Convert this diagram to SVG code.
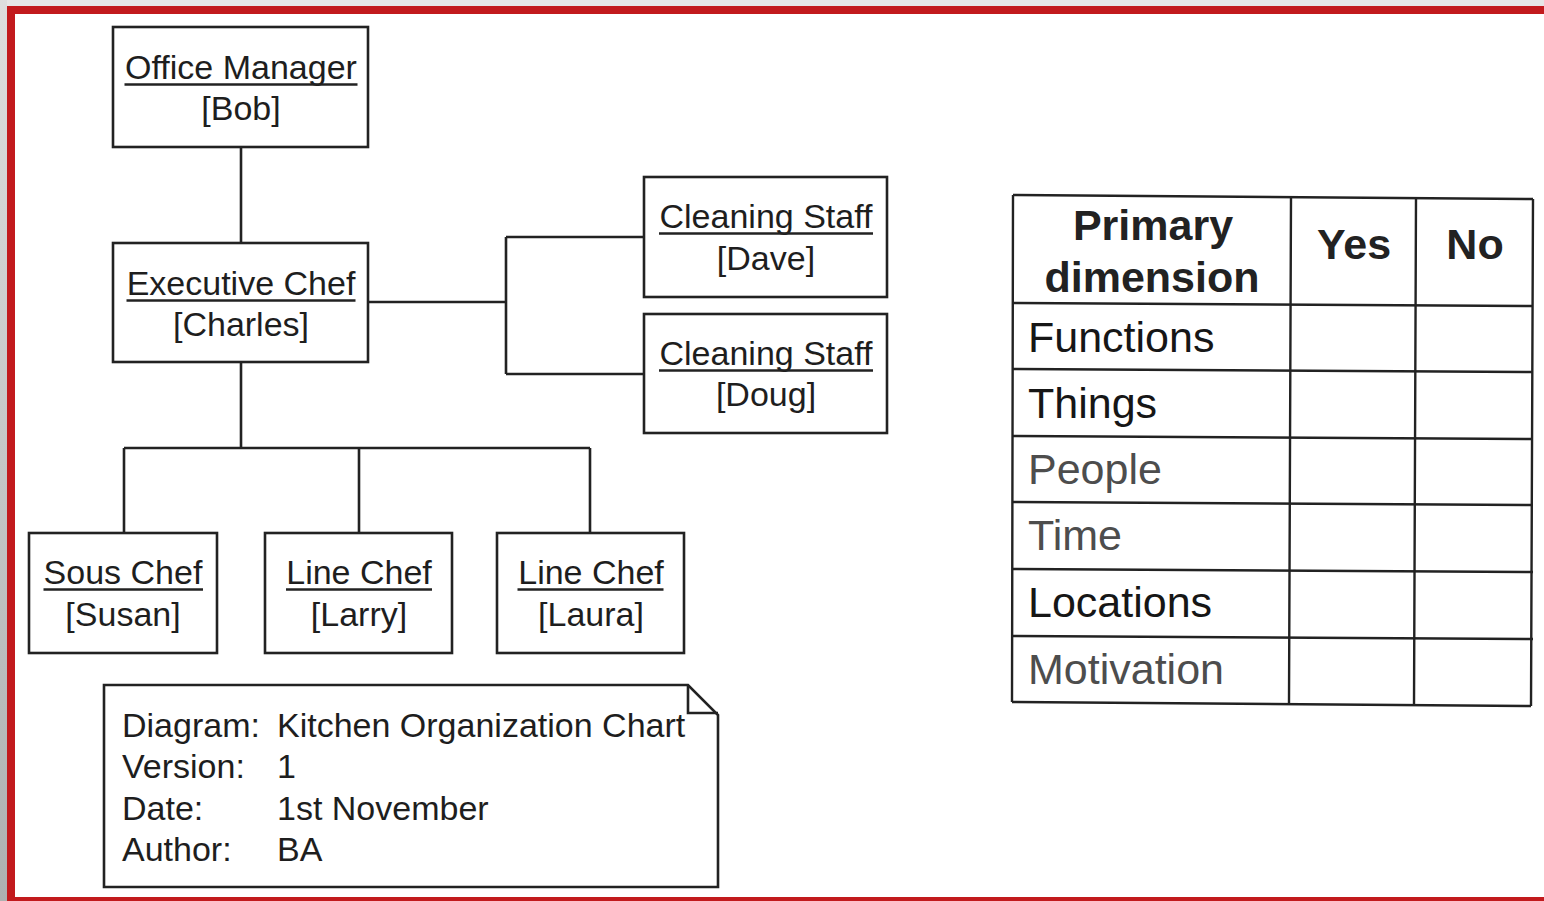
<svg xmlns="http://www.w3.org/2000/svg" width="1544" height="901" viewBox="0 0 1544 901">
  <defs>
    <linearGradient id="sideShade" x1="0" y1="0" x2="0" y2="1">
      <stop offset="0" stop-color="#dedede"/>
      <stop offset="1" stop-color="#adb1b1"/>
    </linearGradient>
    <style>
      .box { fill: #ffffff; stroke: #222222; stroke-width: 2.6; }
      .wire { fill: none; stroke: #222222; stroke-width: 2.6; }
      .ul { stroke: #222222; stroke-width: 2.6; }
      .lbl { font-family: "Liberation Sans", Arial, sans-serif; font-size: 34px; fill: #1e1e1e; text-anchor: middle; }
      .note { font-family: "Liberation Sans", Arial, sans-serif; font-size: 34px; fill: #1e1e1e; }
      .grid { fill: none; stroke: #222222; stroke-width: 2.4; }
      .th { font-family: "Liberation Sans", Arial, sans-serif; font-size: 43px; font-weight: bold; fill: #222222; text-anchor: middle; }
      .td { font-family: "Liberation Sans", Arial, sans-serif; font-size: 43px; fill: #161616; }
      .td.soft { fill: #4d4d4d; }
    </style>
  </defs>

  <!-- frame -->
  <rect x="0" y="0" width="1544" height="901" fill="#ffffff"/>
  <rect x="0" y="0" width="1544" height="7" fill="#e6e6e6"/>
  <rect x="0" y="0" width="7" height="901" fill="url(#sideShade)"/>
  <rect x="7" y="6" width="1537" height="8" fill="#c21a1d"/>
  <rect x="7" y="6" width="8" height="895" fill="#c21a1d"/>
  <rect x="7" y="897" width="1537" height="4" fill="#c21a1d"/>

  <!-- connectors -->
  <g id="connectors">
    <path class="wire" d="M241,147 V243"/>
    <path class="wire" d="M368,302 H506 M506,237 V374 M506,237 H644 M506,374 H644"/>
    <path class="wire" d="M241,362 V448 M124,448 H590 M124,448 V533 M359,448 V533 M590,448 V533"/>
  </g>

  <!-- org chart nodes -->
  <g id="office-manager">
    <rect class="box" x="113" y="27" width="255" height="120"/>
    <text class="lbl" x="241" y="79">Office Manager</text>
    <line class="ul" x1="124.5" y1="84.5" x2="357.5" y2="84.5"/>
    <text class="lbl" x="241" y="120">[Bob]</text>
  </g>

  <g id="executive-chef">
    <rect class="box" x="113" y="243" width="255" height="119"/>
    <text class="lbl" x="241" y="295">Executive Chef</text>
    <line class="ul" x1="126.5" y1="300.5" x2="355.5" y2="300.5"/>
    <text class="lbl" x="241" y="336">[Charles]</text>
  </g>

  <g id="cleaning-dave">
    <rect class="box" x="644" y="177" width="243" height="120"/>
    <text class="lbl" x="766" y="228">Cleaning Staff</text>
    <line class="ul" x1="659" y1="233.5" x2="873" y2="233.5"/>
    <text class="lbl" x="766" y="270">[Dave]</text>
  </g>

  <g id="cleaning-doug">
    <rect class="box" x="644" y="314" width="243" height="119"/>
    <text class="lbl" x="766" y="365">Cleaning Staff</text>
    <line class="ul" x1="659" y1="370.5" x2="873" y2="370.5"/>
    <text class="lbl" x="766" y="406">[Doug]</text>
  </g>

  <g id="sous-chef">
    <rect class="box" x="29" y="533" width="188" height="120"/>
    <text class="lbl" x="123" y="584">Sous Chef</text>
    <line class="ul" x1="43.5" y1="589.5" x2="203" y2="589.5"/>
    <text class="lbl" x="123" y="626">[Susan]</text>
  </g>

  <g id="line-chef-larry">
    <rect class="box" x="265" y="533" width="187" height="120"/>
    <text class="lbl" x="359" y="584">Line Chef</text>
    <line class="ul" x1="286" y1="589.5" x2="432" y2="589.5"/>
    <text class="lbl" x="359" y="626">[Larry]</text>
  </g>

  <g id="line-chef-laura">
    <rect class="box" x="497" y="533" width="187" height="120"/>
    <text class="lbl" x="591" y="584">Line Chef</text>
    <line class="ul" x1="517.5" y1="589.5" x2="663.5" y2="589.5"/>
    <text class="lbl" x="591" y="626">[Laura]</text>
  </g>

  <!-- diagram info note -->
  <g id="info-note">
    <path class="box" d="M104,685 H688 L718,715 V887 H104 Z"/>
    <path class="wire" d="M688,685 V713 H718"/>
    <text class="note" x="122" y="737">Diagram:</text>
    <text class="note" x="277" y="737">Kitchen Organization Chart</text>
    <text class="note" x="122" y="778">Version:</text>
    <text class="note" x="277" y="778">1</text>
    <text class="note" x="122" y="820">Date:</text>
    <text class="note" x="277" y="820">1st November</text>
    <text class="note" x="122" y="861">Author:</text>
    <text class="note" x="277" y="861">BA</text>
  </g>

  <!-- primary dimension table -->
  <g id="dimension-table">
    <path class="grid" d="M1013,195 L1533,199 M1013,303 L1533,306 M1013,369 L1533,372 M1013,436 L1533,439 M1013,502 L1533,505 M1013,569 L1533,572 M1013,636 L1533,639 M1012,702 L1531,706"/>
    <path class="grid" d="M1013,195 L1012,702 M1291,197 L1289,704 M1416,198 L1414,705 M1533,199 L1531,706"/>
    <text class="th" x="1153" y="240">Primary</text>
    <text class="th" x="1152" y="292">dimension</text>
    <text class="th" x="1354" y="259">Yes</text>
    <text class="th" x="1475" y="259">No</text>
    <text class="td" x="1028" y="352">Functions</text>
    <text class="td" x="1028" y="418">Things</text>
    <text class="td soft" x="1028" y="484">People</text>
    <text class="td soft" x="1028" y="550">Time</text>
    <text class="td" x="1028" y="617">Locations</text>
    <text class="td soft" x="1028" y="684">Motivation</text>
  </g>
</svg>
